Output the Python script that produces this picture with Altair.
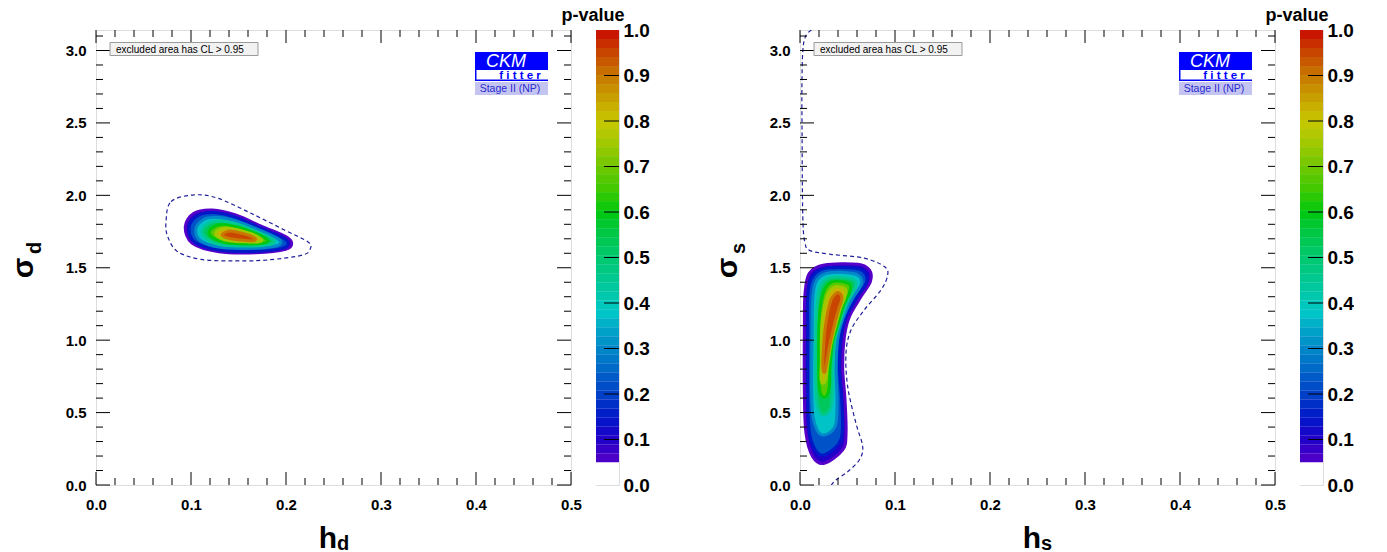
import altair as alt
import pandas as pd

FONT = "Liberation Sans"
W, H = 475, 455
CB_W = 23
Y_MAX = 3.1416
DASH = "#20209a"

# ---------------- tick values ----------------
x_major = [0.0, 0.1, 0.2, 0.3, 0.4, 0.5]
x_minor = [0.02, 0.04, 0.06, 0.08, 0.12, 0.14, 0.16, 0.18, 0.22, 0.24, 0.26, 0.28,
           0.32, 0.34, 0.36, 0.38, 0.42, 0.44, 0.46, 0.48]
y_major = [0.0, 0.5, 1.0, 1.5, 2.0, 2.5, 3.0]
y_minor = [0.1, 0.2, 0.3, 0.4, 0.6, 0.7, 0.8, 0.9, 1.1, 1.2, 1.3, 1.4, 1.6, 1.7, 1.8, 1.9,
           2.1, 2.2, 2.3, 2.4, 2.6, 2.7, 2.8, 2.9, 3.1]
cbar_labels = [0.0, 0.1, 0.2, 0.3, 0.4, 0.5, 0.6, 0.7, 0.8, 0.9, 1.0]
cbar_ticks = [0.1, 0.2, 0.3, 0.4, 0.5, 0.6, 0.7, 0.8, 0.9]

# ---------------- palette (p-value colour stops) ----------------
pal_stops = [0.0, 0.0499, 0.05, 0.1, 0.15, 0.2, 0.25, 0.3, 0.35, 0.38, 0.42, 0.46, 0.5,
             0.55, 0.6, 0.65, 0.7, 0.75, 0.8, 0.85, 0.9, 0.95, 1.0]
pal_colors = ["#ffffff", "#ffffff", "#5500c8", "#2000c8", "#0018c8", "#0040c8", "#0064c8",
              "#0088c8", "#00aac8", "#00c8c8", "#00c8aa", "#00c88c", "#00c870",
              "#00c84a", "#00c810", "#40c800", "#70c800", "#a0c800", "#c8c800",
              "#c8a000", "#c87800", "#c84600", "#c80a00"]
cbar_edges = [0.0, 0.05] + [round(0.05 + 0.95 * i / 48, 4) for i in range(1, 49)]

# ---------------- left panel: contour levels (h_d, sigma_d) ----------------
left_levels = [0.05, 0.15, 0.3, 0.45, 0.6, 0.75, 0.9]
left_h = {
    0.05: [0.094, 0.103, 0.1225, 0.147, 0.175, 0.1997, 0.206, 0.1997, 0.168, 0.1295, 0.1014],
    0.15: [0.098, 0.1067, 0.1236, 0.1471, 0.1741, 0.1969, 0.2022, 0.1962, 0.1674, 0.1295, 0.1042],
    0.3: [0.105, 0.1127, 0.126, 0.1471, 0.1716, 0.1909, 0.1945, 0.1892, 0.1664, 0.1313, 0.1102],
    0.45: [0.112, 0.119, 0.1295, 0.1478, 0.1688, 0.185, 0.1874, 0.1822, 0.1646, 0.133, 0.1172],
    0.6: [0.119, 0.1243, 0.133, 0.1488, 0.1664, 0.1794, 0.1808, 0.1759, 0.1629, 0.1365, 0.1232],
    0.75: [0.126, 0.1302, 0.1365, 0.1499, 0.1639, 0.1734, 0.1741, 0.1699, 0.1604, 0.1401, 0.1295],
    0.9: [0.133, 0.1372, 0.1418, 0.1513, 0.1611, 0.1674, 0.1674, 0.1639, 0.1576, 0.1436, 0.1358],
}
left_s = {
    0.05: [1.784, 1.876, 1.899, 1.864, 1.784, 1.715, 1.669, 1.627, 1.604, 1.611, 1.669],
    0.15: [1.777, 1.858, 1.881, 1.848, 1.772, 1.708, 1.669, 1.634, 1.613, 1.623, 1.676],
    0.3: [1.765, 1.830, 1.848, 1.823, 1.761, 1.703, 1.673, 1.650, 1.634, 1.641, 1.687],
    0.45: [1.756, 1.807, 1.823, 1.802, 1.749, 1.701, 1.676, 1.660, 1.650, 1.657, 1.696],
    0.6: [1.745, 1.784, 1.798, 1.782, 1.742, 1.701, 1.680, 1.669, 1.664, 1.673, 1.706],
    0.75: [1.738, 1.765, 1.775, 1.761, 1.733, 1.701, 1.685, 1.678, 1.678, 1.687, 1.710],
    0.9: [1.729, 1.747, 1.754, 1.742, 1.724, 1.703, 1.692, 1.687, 1.689, 1.699, 1.712],
}
left_dash_h = [0.0737, 0.0790, 0.1035, 0.1281, 0.1632, 0.1983, 0.2229, 0.2257, 0.2176,
               0.1808, 0.1457, 0.1106, 0.0860, 0.0755]
left_dash_s = [1.819, 1.957, 2.003, 1.980, 1.876, 1.761, 1.680, 1.634, 1.588,
               1.554, 1.547, 1.558, 1.611, 1.715]

# ---------------- right panel: contour levels (h_s, sigma_s) ----------------
right_levels = [0.05, 0.15, 0.3, 0.45, 0.6, 0.75, 0.9]
right_h = {
    0.05: [0.0053, 0.0098, 0.0256, 0.0607, 0.0730, 0.0741, 0.0642, 0.0520, 0.0467, 0.0449,
           0.0474, 0.0485, 0.0449, 0.0256, 0.0134, 0.0063, 0.0046, 0.0046],
    0.15: [0.0081, 0.0123, 0.0256, 0.0579, 0.0685, 0.0699, 0.0600, 0.0485, 0.0432, 0.0414,
           0.0439, 0.0446, 0.0404, 0.0256, 0.0162, 0.0098, 0.0081, 0.0081],
    0.3: [0.0134, 0.0169, 0.0284, 0.0544, 0.0635, 0.0642, 0.0544, 0.0449, 0.0397, 0.0379,
          0.0390, 0.0379, 0.0327, 0.0239, 0.0179, 0.0137, 0.0123, 0.0126],
    0.45: [0.0179, 0.0214, 0.0309, 0.0502, 0.0579, 0.0579, 0.0502, 0.0425, 0.0369, 0.0344,
           0.0344, 0.0320, 0.0249, 0.0193, 0.0169, 0.0165, 0.0165],
    0.6: [0.0207, 0.0249, 0.0334, 0.0467, 0.0530, 0.0520, 0.0460, 0.0404, 0.0344, 0.0316,
          0.0309, 0.0274, 0.0221, 0.0200, 0.0197, 0.0197],
    0.75: [0.0235, 0.0284, 0.0355, 0.0439, 0.0485, 0.0467, 0.0425, 0.0379, 0.0327, 0.0291,
           0.0274, 0.0239, 0.0221, 0.0225, 0.0225],
    0.9: [0.0267, 0.0320, 0.0379, 0.0425, 0.0439, 0.0404, 0.0362, 0.0320, 0.0291, 0.0263,
          0.0242, 0.0246],
}
right_s = {
    0.05: [1.324, 1.462, 1.519, 1.524, 1.485, 1.404, 1.301, 1.163, 1.024, 0.817,
           0.587, 0.357, 0.242, 0.150, 0.196, 0.357, 0.633, 1.094],
    0.15: [1.301, 1.427, 1.494, 1.496, 1.462, 1.397, 1.296, 1.158, 1.020, 0.817,
           0.587, 0.380, 0.283, 0.207, 0.242, 0.368, 0.633, 1.048],
    0.3: [1.278, 1.404, 1.462, 1.462, 1.434, 1.381, 1.282, 1.144, 1.013, 0.817,
          0.587, 0.426, 0.368, 0.345, 0.380, 0.472, 0.656, 1.002],
    0.45: [1.232, 1.370, 1.430, 1.430, 1.407, 1.358, 1.266, 1.135, 1.002, 0.817,
           0.656, 0.530, 0.483, 0.530, 0.633, 0.817, 1.002],
    0.6: [1.186, 1.335, 1.402, 1.402, 1.379, 1.324, 1.243, 1.121, 0.990, 0.817,
          0.679, 0.610, 0.622, 0.702, 0.863, 1.002],
    0.75: [1.140, 1.301, 1.365, 1.365, 1.342, 1.289, 1.220, 1.112, 0.978, 0.829,
           0.737, 0.702, 0.737, 0.863, 1.002],
    0.9: [1.094, 1.266, 1.324, 1.319, 1.282, 1.209, 1.105, 0.990, 0.886, 0.783,
          0.806, 0.932],
}
right_dash_h = [0.0120, 0.0060, 0.0030, 0.0020, 0.0022, 0.0025, 0.0032, 0.0050, 0.0100,
                0.0326, 0.0677, 0.0888, 0.0923, 0.0853, 0.0677, 0.0537, 0.0484, 0.0502,
                0.0589, 0.0660, 0.0624, 0.0502, 0.0379, 0.0330]
right_dash_s = [3.142, 3.100, 3.000, 2.750, 2.400, 2.050, 1.800, 1.680, 1.620,
                1.593, 1.566, 1.508, 1.450, 1.347, 1.209, 1.070, 0.910, 0.679,
                0.426, 0.265, 0.173, 0.092, 0.035, 0.000]

cscale = alt.Scale(domain=pal_stops, range=pal_colors, type="linear", interpolate="rgb", clamp=True)
one = pd.DataFrame({"a": [0]})


def txt(s, x, y, size, weight="bold", color="black", align="left", baseline="alphabetic",
        angle=0, style="normal", font=FONT):
    return alt.Chart(one).mark_text(
        text=s, fontSize=size, fontWeight=weight, color=color, align=align,
        baseline=baseline, angle=angle, fontStyle=style, font=font
    ).encode(x=alt.value(x), y=alt.value(y))


def box(x1, x2, y1, y2, fill, stroke=None, sw=1):
    kw = dict(fill=fill)
    if stroke:
        kw.update(stroke=stroke, strokeWidth=sw)
    return alt.Chart(one).mark_rect(**kw).encode(
        x=alt.value(x1), x2=alt.value(x2), y=alt.value(y1), y2=alt.value(y2))


def panel(levels, rh, rs, dh, ds, closed, sub):
    xs = alt.Scale(domain=[0, 0.5], nice=False, zero=False)
    ys = alt.Scale(domain=[0, Y_MAX], nice=False, zero=False)
    xax = alt.Axis(values=x_major, format=".1f", labelFont=FONT, labelFontSize=15,
                   labelFontWeight="bold", labelColor="black", ticks=False, domain=False,
                   grid=False, labelPadding=12, labelFlush=False, title=None)
    yax = alt.Axis(values=y_major, format=".1f", labelFont=FONT, labelFontSize=15,
                   labelFontWeight="bold", labelColor="black", ticks=False, domain=False,
                   grid=False, labelPadding=10, labelFlush=False, title=None)
    X = lambda f: alt.X(f, scale=xs, axis=xax)
    Y = lambda f: alt.Y(f, scale=ys, axis=yax)
    layers = []
    ddf = pd.DataFrame({"h": dh, "s": ds, "i": list(range(len(dh)))})
    layers.append(alt.Chart(ddf).mark_line(
        interpolate="cardinal-closed" if closed else "cardinal", strokeDash=[4, 3],
        color=DASH, strokeWidth=1.2, clip=True).encode(x=X("h:Q"), y=Y("s:Q"), order="i:Q"))
    for k, lv in enumerate(levels):
        nxt = levels[k + 1] if k + 1 < len(levels) else 1.0
        shade = (lv + nxt) / 2
        n = len(rh[lv])
        rdf = pd.DataFrame({"h": rh[lv], "s": rs[lv], "i": list(range(n)),
                            "shade": [shade] * n, "lv": [lv] * n})
        layers.append(alt.Chart(rdf).mark_line(
            interpolate="cardinal-closed", strokeWidth=3, clip=True).encode(
            x=X("h:Q"), y=Y("s:Q"), order="i:Q",
            fill=alt.Fill("shade:Q", scale=cscale, legend=None),
            stroke=alt.Stroke("lv:Q", scale=cscale, legend=None)))
    # inward ticks on all four sides
    for vals, ln in ((x_minor, 7), (x_major, 13)):
        tdf = pd.DataFrame({"v": vals})
        layers.append(alt.Chart(tdf).mark_rule(color="black", strokeWidth=1).encode(
            x=X("v:Q"), y=alt.value(H), y2=alt.value(H - ln)))
        layers.append(alt.Chart(tdf).mark_rule(color="black", strokeWidth=1).encode(
            x=X("v:Q"), y=alt.value(0), y2=alt.value(ln)))
    for vals, ln in ((y_minor, 7), (y_major, 14)):
        tdf = pd.DataFrame({"v": vals})
        layers.append(alt.Chart(tdf).mark_rule(color="black", strokeWidth=1).encode(
            y=Y("v:Q"), x=alt.value(0), x2=alt.value(ln)))
        layers.append(alt.Chart(tdf).mark_rule(color="black", strokeWidth=1).encode(
            y=Y("v:Q"), x=alt.value(W), x2=alt.value(W - ln)))
    # legend box
    layers.append(box(14, 162, 12.5, 25.5, "#f2f2f2", "#9a9a9a", 1))
    layers.append(txt("excluded area has CL > 0.95", 20, 23, 10, weight="normal"))
    # CKMfitter logo
    layers.append(box(379, 452, 22, 51, "#0000ff"))
    layers.append(box(380.5, 452, 40, 49.5, "#ffffff"))
    layers.append(box(379, 452, 52, 65, "#c4c4f0"))
    layers.append(txt("CKM", 410, 37, 18, weight="normal", color="#ffffff", align="center",
                      style="italic"))
    layers.append(txt("f i t t e r", 424, 49, 11.5, color="#0000ff", align="center"))
    layers.append(txt("Stage II (NP)", 414, 62, 10.5, weight="normal", color="#2a2ad0",
                      align="center"))
    # axis titles
    layers.append(txt("h", 232, 518, 30, align="center"))
    layers.append(txt(sub, 241, 520, 20, align="left"))
    layers.append(txt("\u03c3", -72, 238, 30, align="center", baseline="middle", angle=270))
    layers.append(txt(sub, -61, 224, 20, align="left", baseline="middle", angle=270))
    return alt.layer(*layers).properties(width=W, height=H)


def colorbar():
    lo = cbar_edges[:-1]
    hi = cbar_edges[1:]
    cdf = pd.DataFrame({"lo": lo, "hi": hi, "mid": [(a + b) / 2 for a, b in zip(lo, hi)]})
    cys = alt.Scale(domain=[0, 1], nice=False, zero=False)
    cax = alt.Axis(orient="right", values=cbar_labels, format=".1f", labelFont=FONT,
                   labelFontSize=19, labelFontWeight="bold", labelColor="black", ticks=False,
                   domain=False, grid=False, labelPadding=4, title=None)
    bars = alt.Chart(cdf).mark_rect().encode(
        y=alt.Y("lo:Q", scale=cys, axis=cax), y2="hi:Q",
        x=alt.value(0), x2=alt.value(CB_W),
        fill=alt.Fill("mid:Q", scale=cscale, legend=None))
    ticks = alt.Chart(pd.DataFrame({"v": cbar_ticks})).mark_rule(color="black").encode(
        y=alt.Y("v:Q", scale=cys, axis=cax), x=alt.value(CB_W), x2=alt.value(CB_W - 15))
    title = txt("p-value", -3, -9, 18, align="center")
    return alt.layer(bars, ticks, title).properties(width=CB_W, height=H)


spacer = alt.Chart(one).mark_text(text=" ").encode(
    x=alt.value(0), y=alt.value(0)
).properties(width=131, height=H, view=alt.ViewBackground(stroke=None))

chart = alt.hconcat(
    panel(left_levels, left_h, left_s, left_dash_h, left_dash_s, True, "d"),
    colorbar(),
    spacer,
    panel(right_levels, right_h, right_s, right_dash_h, right_dash_s, False, "s"),
    colorbar(),
    spacing=25, bounds="flush"
).properties(
    padding={"left": 0, "top": -2, "right": 0, "bottom": 0}
).configure_view(stroke="black", strokeWidth=1).configure(background="white")

chart.save("out.html", embed_options={"renderer": "svg", "actions": False})
